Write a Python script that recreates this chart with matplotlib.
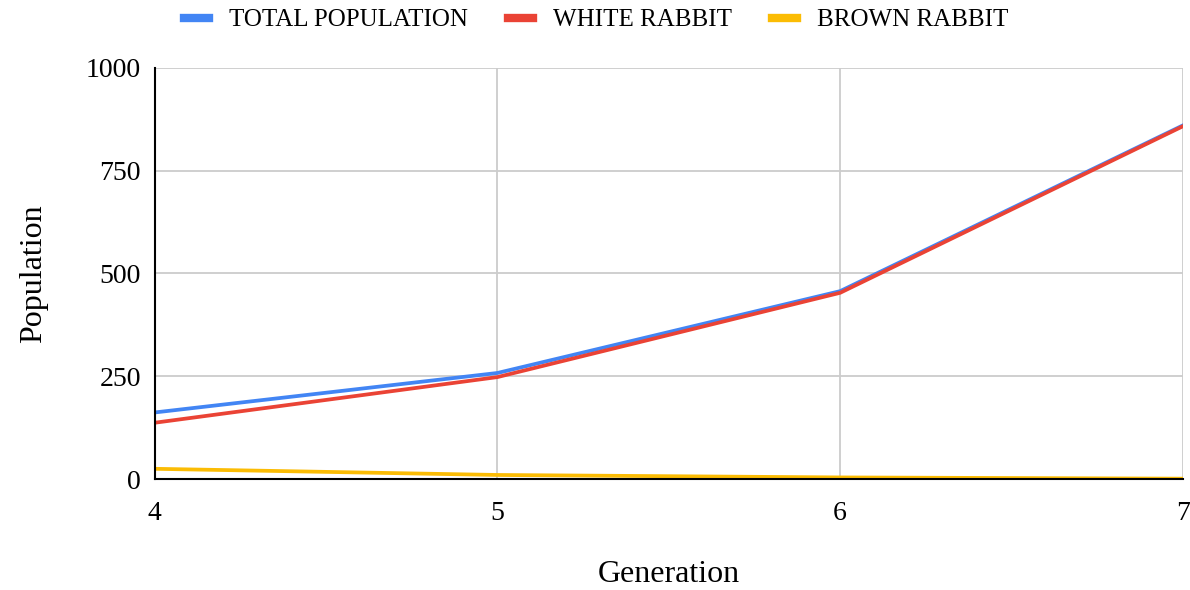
import matplotlib.pyplot as plt

# data
generation = [4, 5, 6, 7]
total_population = [162, 258, 457, 860]
white_rabbit = [137, 248, 453, 858]
brown_rabbit = [25, 10, 4, 1]
y_ticks = [0, 250, 500, 750, 1000]

plt.rcParams['font.family'] = ['Liberation Serif', 'DejaVu Serif']

fig = plt.figure(figsize=(11.9, 5.9), dpi=100)
ax = fig.add_axes([0.130, 0.188, 0.864, 0.697])

ax.plot(generation, total_population, color='#4285F4', lw=2.7, label='TOTAL POPULATION')
ax.plot(generation, white_rabbit, color='#EA4335', lw=2.7, label='WHITE RABBIT')
ax.plot(generation, brown_rabbit, color='#FBBC04', lw=2.7, label='BROWN RABBIT')

ax.set_xlim(4, 7)
ax.set_ylim(0, 1000)
ax.set_xticks(generation)
ax.set_yticks(y_ticks)
ax.grid(True, color='#cccccc', lw=1.3)
ax.set_axisbelow(True)
for side in ['top', 'right']:
    ax.spines[side].set_visible(False)
ax.spines['left'].set_linewidth(1.5)
ax.spines['bottom'].set_linewidth(1.5)
ax.tick_params(length=0, labelsize=20, pad=10)
ax.tick_params(axis='x', pad=16)

ax.set_xlabel('Generation', fontsize=23, labelpad=24)
ax.set_ylabel('Population', fontsize=23, labelpad=27)

ax.legend(loc='lower center', bbox_to_anchor=(0.429, 1.035), ncol=3, frameon=False,
          fontsize=18, handlelength=1.0, handleheight=0.5, columnspacing=1.6,
          handletextpad=0.8)
leg = ax.get_legend()
for h in leg.legend_handles:
    h.set_linewidth(6)

fig.savefig('out.png', dpi=100)
